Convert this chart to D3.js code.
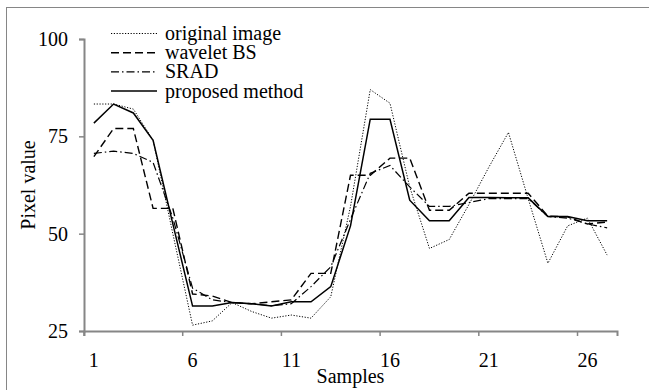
<!DOCTYPE html>
<html>
<head>
<meta charset="utf-8">
<script src="https://cdn.jsdelivr.net/npm/d3@7"></script>
<style>
  body { margin: 0; background: #fff; }
</style>
</head>
<body>
<div class="chart"></div>
<script>
const samples = d3.range(1, 28);
const xTicks = [1, 6, 11, 16, 21, 26];
const yTicks = [25, 50, 75, 100];

const original = [83.3, 83.3, 82, 74, 50, 26.5, 27.6, 32.3, 30, 28.3, 29.1, 28.3, 33.8, 57, 87, 83.5, 62, 46.2, 48.5, 57.5, 67, 76, 59, 42.4, 52, 54, 44.5];
const wavelet = [69.8, 77, 77, 56.5, 56.5, 34.5, 34, 32.3, 32, 32.5, 33, 39.8, 39.8, 65, 65, 69.4, 69.4, 56, 56, 60.4, 60.4, 60.4, 60.4, 54.5, 54.3, 52.5, 53];
const srad = [70.6, 71.2, 70.6, 68.3, 54, 36, 33, 32.3, 32, 31.5, 32, 36.4, 41.5, 53.7, 65.5, 67.5, 62, 57, 57, 58, 59, 59, 59, 54.4, 54, 52.5, 51.5];
const proposed = [78.4, 83.3, 81, 74, 52.5, 31.4, 31.4, 32.3, 32, 31.4, 32.5, 32.5, 36.4, 52, 79.4, 79.4, 58.6, 53.3, 53.3, 59.3, 59.3, 59.2, 59.2, 54.4, 54.4, 53.3, 53.3];

const series = [
  {name: 'original image', values: original, dash: '1.2,1.6', width: 1},
  {name: 'wavelet BS', values: wavelet, dash: '8,4', width: 1.4},
  {name: 'SRAD', values: srad, dash: '8,3,1.5,3', width: 1.2},
  {name: 'proposed method', values: proposed, dash: null, width: 1.5},
];

const W = 649, H = 390;
const plot = {left: 84, right: 617, top: 39, bottom: 331};
const axisColor = '#868686';
const serif = '"Liberation Serif", "Times New Roman", Tinos, "DejaVu Serif", serif';

const svg = d3.select('.chart')
  .append('svg')
  .attr('width', W)
  .attr('height', H);

// outer frame (runs off the right and bottom edges)
svg.append('rect')
  .attr('x', 6.5).attr('y', 7.5)
  .attr('width', 700).attr('height', 500)
  .attr('fill', 'none')
  .attr('stroke', axisColor)
  .attr('stroke-width', 1);

const xScale = d3.scaleBand()
  .domain(samples)
  .range([plot.left, plot.right])
  .paddingInner(0).paddingOuter(0);
const bw = xScale.bandwidth();
const xc = s => xScale(s) + bw / 2;

const yScale = d3.scaleLinear()
  .domain([25, 100])
  .range([plot.bottom, plot.top]);

// x axis: ticks on category edges, labels centered
const xAxis = svg.append('g')
  .attr('transform', `translate(0, ${plot.bottom})`)
  .call(d3.axisBottom(xScale).tickValues(xTicks).tickSizeOuter(0).tickSize(5).tickPadding(17));
xAxis.attr('font-family', serif).attr('font-size', 20);
xAxis.select('.domain').attr('stroke', axisColor).attr('stroke-width', 2);
xAxis.selectAll('.tick line')
  .attr('x1', -bw / 2).attr('x2', -bw / 2)
  .attr('stroke', axisColor).attr('stroke-width', 1.5);
xAxis.selectAll('.tick text').style('font-family', serif).style('font-size', '20px');

// y axis
const yAxis = svg.append('g')
  .attr('transform', `translate(${plot.left}, 0)`)
  .call(d3.axisLeft(yScale).tickValues(yTicks).tickSizeOuter(0).tickSize(5).tickPadding(11));
yAxis.attr('font-family', serif).attr('font-size', 20);
yAxis.select('.domain').attr('stroke', axisColor).attr('stroke-width', 2);
yAxis.selectAll('.tick line').attr('stroke', axisColor).attr('stroke-width', 1.5);
yAxis.selectAll('.tick text').style('font-family', serif).style('font-size', '20px');

// axis titles
svg.append('text')
  .attr('x', (plot.left + plot.right) / 2)
  .attr('y', 383)
  .attr('text-anchor', 'middle')
  .style('font-family', serif)
  .style('font-size', '20px')
  .text('Samples');

svg.append('text')
  .attr('transform', `translate(35, ${(plot.top + plot.bottom) / 2}) rotate(-90)`)
  .attr('text-anchor', 'middle')
  .style('font-family', serif)
  .style('font-size', '20px')
  .text('Pixel value');

// lines
const line = d3.line()
  .x((d, i) => xc(samples[i]))
  .y(d => yScale(d));

svg.selectAll('.line')
  .data(series)
  .enter()
  .append('path')
  .attr('class', 'line')
  .attr('d', d => line(d.values))
  .attr('fill', 'none')
  .attr('stroke', '#000')
  .attr('stroke-width', d => d.width)
  .attr('stroke-dasharray', d => d.dash);

// legend
const legend = svg.append('g')
  .selectAll('g')
  .data(series)
  .enter()
  .append('g')
  .attr('transform', (d, i) => `translate(0, ${33.5 + i * 19.2})`);

legend.append('line')
  .attr('x1', 111).attr('x2', 157)
  .attr('stroke', '#000')
  .attr('stroke-width', d => d.width)
  .attr('stroke-dasharray', d => d.dash);

legend.append('text')
  .attr('x', 165)
  .attr('dy', '0.32em')
  .style('font-family', serif)
  .style('font-size', '20px')
  .text(d => d.name);
</script>
</body>
</html>
